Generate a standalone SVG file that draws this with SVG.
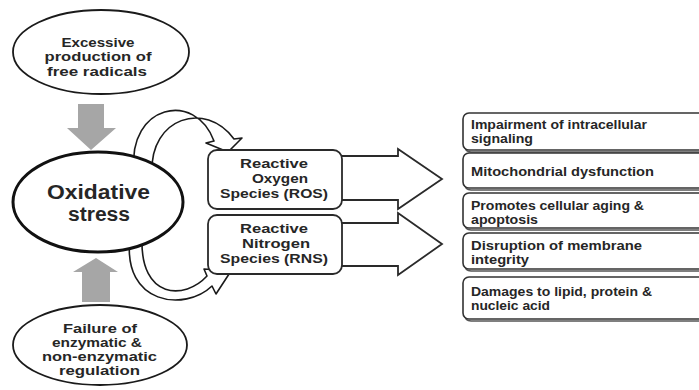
<svg xmlns="http://www.w3.org/2000/svg" width="699" height="390" viewBox="0 0 699 390">
<style>
text{font-family:"Liberation Sans",Arial,sans-serif;font-weight:bold;fill:#262626}
.el{fill:#fff;stroke:#1a1a1a;stroke-width:1.8}
.big{fill:#fff;stroke:#111;stroke-width:3}
.gray{fill:#a6a6a6;stroke:none}
.blk{fill:#fff;stroke:#2a2a2a;stroke-width:1.8;stroke-linejoin:miter}
.curve{fill:#fff;stroke:#1a1a1a;stroke-width:1.6;stroke-linejoin:round}
.sp{fill:#fff;stroke:#2a2a2a;stroke-width:1.8}
.eff{fill:#fff;stroke:#333;stroke-width:1.6}
.sh{fill:none;stroke:#555;stroke-width:1.6}
.t13{font-size:13px}
.t12{font-size:12px}
.big-t{font-size:19.5px}
</style>
<rect width="699" height="390" fill="#fff"/>
<g id="connectors">
  <polygon class="gray" points="78,104 104,104 104,128 116,128 91,150 67,128 78,128"/>
  <polygon class="gray" points="82,302 110,302 110,272 118,272 96,258 73,272 82,272"/>
  <path class="curve" d="M134,170 C128,105 195,90 214,141 L206,143 L228,152 L242,138 L234,139 C205,100 150,118 152,172 Z"/>
  <path class="curve" d="M130,238 C122,305 185,312 212,286 L216,294 L231,271 L204,269 L207,276 C185,300 140,300 142,238 Z"/>
  <polygon class="blk" points="338,156 398,156 398,149 442,179 398,209 398,200 338,200"/>
  <polygon class="blk" points="338,223 398,223 398,213 442,244 398,275 398,266 338,266"/>
</g>
<g id="node-excessive">
  <ellipse class="el" cx="101" cy="52" rx="88" ry="42"/>
  <text class="t13" x="98" y="46.5" text-anchor="middle" textLength="73" lengthAdjust="spacingAndGlyphs">Excessive</text>
  <text class="t13" x="98" y="61" text-anchor="middle" textLength="107" lengthAdjust="spacingAndGlyphs">production of</text>
  <text class="t13" x="97" y="75.5" text-anchor="middle" textLength="100" lengthAdjust="spacingAndGlyphs">free radicals</text>
</g>
<g id="node-oxidative">
  <ellipse class="big" cx="98" cy="202" rx="85" ry="50"/>
  <text class="big-t" x="98.5" y="198.5" text-anchor="middle" textLength="103" lengthAdjust="spacingAndGlyphs">Oxidative</text>
  <text class="big-t" x="99" y="220.5" text-anchor="middle" textLength="62" lengthAdjust="spacingAndGlyphs">stress</text>
</g>
<g id="node-failure">
  <ellipse class="el" cx="100" cy="345" rx="87" ry="40"/>
  <text class="t12" x="100" y="333" text-anchor="middle" textLength="74" lengthAdjust="spacingAndGlyphs">Failure of</text>
  <text class="t12" x="97" y="347" text-anchor="middle" textLength="90" lengthAdjust="spacingAndGlyphs">enzymatic &amp;</text>
  <text class="t12" x="99.5" y="361" text-anchor="middle" textLength="115" lengthAdjust="spacingAndGlyphs">non-enzymatic</text>
  <text class="t12" x="99.5" y="375" text-anchor="middle" textLength="81" lengthAdjust="spacingAndGlyphs">regulation</text>
</g>
<g id="node-ros">
  <rect class="sp" x="208" y="150" width="134" height="59" rx="9"/>
  <text class="t13" x="274" y="168" text-anchor="middle" textLength="68" lengthAdjust="spacingAndGlyphs">Reactive</text>
  <text class="t13" x="280" y="183" text-anchor="middle" textLength="56" lengthAdjust="spacingAndGlyphs">Oxygen</text>
  <text class="t13" x="274" y="198" text-anchor="middle" textLength="108" lengthAdjust="spacingAndGlyphs">Species (ROS)</text>
</g>
<g id="node-rns">
  <rect class="sp" x="208" y="215" width="134" height="59" rx="9"/>
  <text class="t13" x="274" y="233" text-anchor="middle" textLength="68" lengthAdjust="spacingAndGlyphs">Reactive</text>
  <text class="t13" x="276" y="248" text-anchor="middle" textLength="68" lengthAdjust="spacingAndGlyphs">Nitrogen</text>
  <text class="t13" x="274" y="263" text-anchor="middle" textLength="108" lengthAdjust="spacingAndGlyphs">Species (RNS)</text>
</g>
<g id="node-effect1">
  <path class="sh" d="M465,146 Q465,152 471,152 L720,152"/>
  <rect class="eff" x="463" y="113" width="260" height="37" rx="6"/>
  <text class="t12" x="471" y="128.5" textLength="176" lengthAdjust="spacingAndGlyphs">Impairment of intracellular</text>
  <text class="t12" x="471" y="142.5" textLength="62" lengthAdjust="spacingAndGlyphs">signaling</text>
</g>
<g id="node-effect2">
  <path class="sh" d="M465,184 Q465,190 471,190 L720,190"/>
  <rect class="eff" x="463" y="153" width="260" height="35" rx="6"/>
  <text class="t12" x="471" y="175.5" textLength="183" lengthAdjust="spacingAndGlyphs">Mitochondrial dysfunction</text>
</g>
<g id="node-effect3">
  <path class="sh" d="M465,224 Q465,230 471,230 L720,230"/>
  <rect class="eff" x="463" y="193" width="260" height="35" rx="6"/>
  <text class="t12" x="471" y="210" textLength="173" lengthAdjust="spacingAndGlyphs">Promotes cellular aging &amp;</text>
  <text class="t12" x="471" y="224" textLength="67" lengthAdjust="spacingAndGlyphs">apoptosis</text>
</g>
<g id="node-effect4">
  <path class="sh" d="M465,265 Q465,271 471,271 L720,271"/>
  <rect class="eff" x="463" y="233" width="260" height="36" rx="6"/>
  <text class="t12" x="471" y="250" textLength="171" lengthAdjust="spacingAndGlyphs">Disruption of membrane</text>
  <text class="t12" x="471" y="264" textLength="58" lengthAdjust="spacingAndGlyphs">integrity</text>
</g>
<g id="node-effect5">
  <path class="sh" d="M465,315 Q465,321 471,321 L720,321"/>
  <rect class="eff" x="463" y="277" width="260" height="42" rx="6"/>
  <text class="t12" x="471" y="296" textLength="181" lengthAdjust="spacingAndGlyphs">Damages to lipid, protein &amp;</text>
  <text class="t12" x="471" y="310" textLength="79" lengthAdjust="spacingAndGlyphs">nucleic acid</text>
</g>
</svg>
